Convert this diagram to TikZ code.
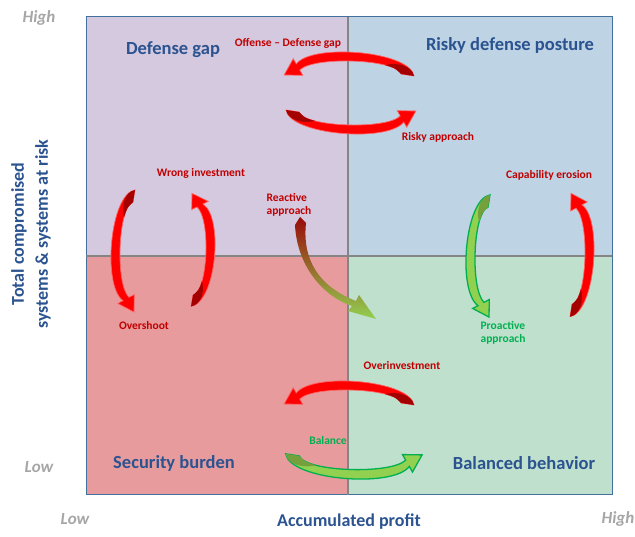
\documentclass[tikz,border=0pt]{standalone}
\usepackage{fontspec}
\setmainfont{Carlito}
\usetikzlibrary{arrows.meta,positioning,calc}

\definecolor{gapfill}{HTML}{D5C9DF}
\definecolor{riskfill}{HTML}{BED3E4}
\definecolor{burdenfill}{HTML}{E89B9D}
\definecolor{balancefill}{HTML}{BEE0CD}
\definecolor{frameblue}{HTML}{41719C}
\definecolor{divgray}{HTML}{858585}
\definecolor{titleblue}{HTML}{2B5390}
\definecolor{tagred}{HTML}{C00000}
\definecolor{taggreen}{HTML}{00B050}
\definecolor{levelgray}{HTML}{A6A6A6}
\definecolor{arrowred}{HTML}{FF0000}
\definecolor{arrowdark}{HTML}{A50000}
\definecolor{arrowgreen}{HTML}{92D050}
\definecolor{arrowolive}{HTML}{76A03C}
\definecolor{edgegreen}{HTML}{00B050}
\definecolor{reacttop}{HTML}{9A0A08}
\definecolor{reactmid}{HTML}{7A5A1E}

\begin{document}
\begin{tikzpicture}[
  x=1pt,
  y=1pt,
  quadrant/.style={draw=frameblue,line width=1pt},
  divider/.style={draw=divgray,line width=2.4pt},
  title/.style={font=\fontsize{18.5}{22}\selectfont\bfseries,text=titleblue},
  tag/.style={font=\fontsize{11.5}{13.5}\selectfont\bfseries,text=tagred,
    inner sep=0pt,align=left},
  gtag/.style={tag,text=taggreen},
  level/.style={font=\fontsize{17}{20}\selectfont\bfseries\itshape,text=levelgray},
  axis/.style={font=\fontsize{18}{24}\selectfont\bfseries,text=titleblue,align=center},
  redbody/.style={fill=arrowred,draw=arrowred!60!white,line width=.7pt},
  redface/.style={fill=arrowdark},
  greenbody/.style={fill=arrowgreen,draw=edgegreen,line width=1.3pt},
  greenface/.style={fill=arrowolive},
  % one bent block arrow: tail on the right, head on the left
  pics/bent/.style 2 args={code={
    \path[#1] (66,17) .. controls (62,42) and (-36,50) .. (-51.75,29)
      -- (-54.75,34.3) -- (-63.9,18) -- (-45.25,17.7) -- (-48.25,23)
      .. controls (-34,37) and (48,34) .. (53,19) -- cycle;
    \path[#2] (66,17) .. controls (64,27) and (50,31) .. (37,27.9)
      .. controls (47,25) .. (53,19) -- cycle;
  }}
]
\useasboundingbox (0,0) rectangle (635,537);

% quadrants
\filldraw[quadrant,fill=gapfill] (86,281) rectangle (348,520);
\filldraw[quadrant,fill=riskfill] (348,281) rectangle (612,520);
\filldraw[quadrant,fill=burdenfill] (86,42) rectangle (348,281);
\filldraw[quadrant,fill=balancefill] (348,42) rectangle (612,281);
\draw[divider] (348,520) -- (348,42);
\draw[divider] (86,281) -- (612,281);

\node[title] (gap) at (173,487) {Defense gap};
\node[title] (risky) at (510,492) {Risky defense posture};
\node[title] (burden) at (174,74) {Security burden};
\node[title] (balanced) at (524,74) {Balanced behavior};

% axes
\node[level] (yhigh) at (39,519) {High};
\node[level] (ylow) at (39,70) {Low};
\node[level] (xlow) at (75,18) {Low};
\node[level] (xhigh) at (618,18) {High};
\node[axis] (xlabel) at (349,15) {Accumulated profit};
\node[axis,rotate=90] (ylabel) at (31,303)
  {Total compromised\\systems \& systems at risk};

% loop between defense gap and risky posture
\pic at (348,444) {bent={redbody}{redface}};
\pic[rotate=180] at (352,444) {bent={redbody}{redface}};
\node[tag] (offense) at (288,494) {Offense -- Defense gap};
\node[tag] (riskyapp) at (438,400) {Risky approach};

% left loop
\pic[rotate=90,xscale=.94] at (152,285) {bent={redbody}{redface}};
\pic[rotate=-90,xscale=.87] at (174,288) {bent={redbody}{redface}};
\node[tag] (wrong) at (201,364) {Wrong investment};
\node[tag] (overshoot) at (144,211) {Overshoot};

% right loop
\pic[rotate=90,xscale=.94] at (507,280) {bent={greenbody}{greenface}};
\pic[rotate=-90,xscale=.95] at (553,283) {bent={redbody}{redface}};
\node[tag] (erosion) at (549,362) {Capability erosion};
\node[gtag] (proactive) at (503,204) {Proactive\\approach};

% reactive approach
\shade[top color=reacttop,middle color=reactmid,bottom color=arrowgreen]
  (306,314) .. controls (302,276) and (320,250) .. (356,236)
  -- (359,242) -- (376,218) -- (348,226) -- (352,231)
  .. controls (322,241) and (297,272) .. (295,312) -- (300,320) -- cycle;
\node[tag] (reactive) at (289,332) {Reactive\\approach};

% bottom loop
\pic at (348,115) {bent={redbody}{redface}};
\pic[rotate=180,scale=1.05] at (355,101) {bent={greenbody}{greenface}};
\node[tag] (overinv) at (402,171) {Overinvestment};
\node[gtag] (balance) at (328,96) {Balance};

\end{tikzpicture}
\end{document}
